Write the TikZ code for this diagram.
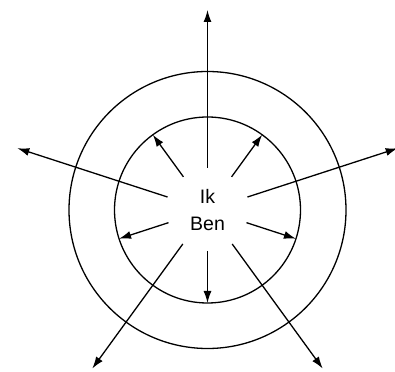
\documentclass[tikz,border=0pt]{standalone}
\usepackage{fontspec}
\setmainfont{Liberation Sans}
\usetikzlibrary{arrows.meta}
\begin{document}
\begin{tikzpicture}[x=1pt,y=1pt,
  ring/.style={draw,circle,line width=1.3pt,inner sep=0pt},
  ray/.style={line width=1.3pt,-{Latex[length=12pt,width=8pt]}}]
\useasboundingbox (-207.5,-161) rectangle (187.5,210);
\node[ring,minimum size=186pt] (inner) at (0,0) {};
\node[ring,minimum size=277pt] (outer) at (0,0) {};
\node[align=center,font=\fontsize{19.5}{27}\selectfont] (c) at (0,0) {Ik\\Ben};
% outer rays
\foreach \a/\r [count=\i] in {90/200,162/200,18/200,234/196,306/196}{
  \coordinate (os\i) at (\a:42);
  \coordinate (oe\i) at (\a:\r);
  \draw[ray] (os\i) -- (oe\i);
}
% inner rays
\foreach \a [count=\i] in {54,126,198,270,342}{
  \coordinate (is\i) at (\a:41);
  \coordinate (ie\i) at (\a:93);
  \draw[ray] (is\i) -- (ie\i);
}
\end{tikzpicture}
\end{document}
